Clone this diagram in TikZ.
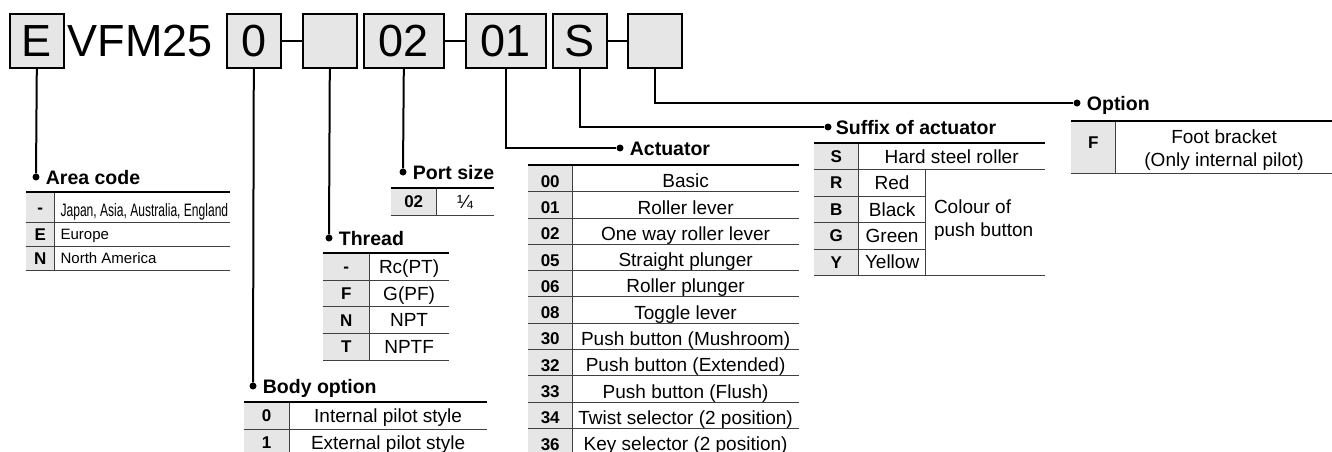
\documentclass[tikz,border=0pt]{standalone}
\usepackage{fontspec}
\setmainfont{Liberation Sans}
\newfontfamily\condsf[FakeStretch=0.67]{Liberation Sans}
\usetikzlibrary{positioning,calc}
\definecolor{cellgray}{HTML}{E6E6E6}
\definecolor{rulegray}{HTML}{404040}
\tikzset{
  codebox/.style={draw,line width=1.6pt,fill=cellgray,anchor=north west,inner sep=0pt,
    minimum height=54pt,font=\fontsize{45}{45}\selectfont},
  bigtext/.style={inner sep=0pt,font=\fontsize{45}{45}\selectfont},
  lead/.style={line width=2pt},
  dot/.style={circle,fill,inner sep=0pt,minimum size=7pt},
  head/.style={inner sep=0pt,font=\bfseries\fontsize{19.5}{20}\selectfont,
    text height=14pt,text depth=0pt},
  toprule/.style={line width=2pt},
  rowrule/.style={draw=rulegray,line width=0.9pt},
  keycell/.style={fill=cellgray,anchor=north west,inner sep=0pt,
    font=\bfseries\fontsize{17}{17}\selectfont,text height=12.2pt,text depth=0pt},
  txtcell/.style={inner sep=0pt,font=\fontsize{19}{19}\selectfont,
    text height=13.6pt,text depth=0pt},
  lowcell/.style={text height=17.6pt},
  lowtxt/.style={text height=18.8pt},
  smallcell/.style={font=\fontsize{15}{15}\selectfont,text height=10.8pt,text depth=0pt},
  notecell/.style={inner sep=0pt,font=\fontsize{19}{23}\selectfont},
}
\begin{document}
\begin{tikzpicture}[x=1pt,y=-1pt]
  \useasboundingbox (0,0) rectangle (1332,452);
  % model code
  \node[codebox,minimum width=54pt] (bE) at (9,13) {E};
  \node[bigtext,right=3pt of bE] (vfm) {VFM25};
  \node[codebox,minimum width=54pt] (b0) at (226,13) {0};
  \node[codebox,minimum width=54pt] (bX1) at (302,13) {};
  \node[codebox,minimum width=80pt] (b02) at (363,13) {02};
  \node[codebox,minimum width=80pt] (b01) at (465,13) {01};
  \node[codebox,minimum width=54pt] (bS) at (552,13) {S};
  \node[codebox,minimum width=54pt] (bX2) at (627,13) {};
  \draw[lead] (b0.east) -- (bX1.west);
  \draw[lead] (b02.east) -- (b01.west);
  \draw[lead] (bS.east) -- (bX2.west);

  % leaders and headings
  \node[dot] (dArea) at (36,177) {};
  \node[dot] (dBody) at (253,386) {};
  \node[dot] (dThr) at (329,238) {};
  \node[dot] (dPort) at (403,172) {};
  \node[dot] (dAct) at (620,148) {};
  \node[dot] (dSuf) at (828,127) {};
  \node[dot] (dOpt) at (1077,103) {};
  \draw[lead] (bE.south) -- (dArea);
  \draw[lead] (b0.south) -- (dBody);
  \draw[lead] (bX1.south) -- (dThr);
  \draw[lead] (b02.south) -- (dPort);
  \draw[lead] (b01.south) |- (dAct);
  \draw[lead] (bS.south) |- (dSuf);
  \draw[lead] (bX2.south) |- (dOpt);
  \node[head,right=6pt of dArea] (hArea) {Area code};
  \node[head,right=6pt of dBody] (hBody) {Body option};
  \node[head,right=6pt of dThr] (hThr) {Thread};
  \node[head,right=6pt of dPort] (hPort) {Port size};
  \node[head,right=6pt of dAct] (hAct) {Actuator};
  \node[head,right=4pt of dSuf] (hSuf) {Suffix of actuator};
  \node[head,right=6pt of dOpt] (hOpt) {Option};

  % area code
  \foreach \k/\v/\t/\h [count=\i] in {-/{\raisebox{-4pt}{\condsf\fontsize{18}{18}\selectfont Japan, Asia, Australia, England}}/192/30,
      E/Europe/222/24,N/North America/246/24}{
    \node[keycell,minimum width=28pt,minimum height=\h pt] (ak\i) at (26,\t) {\k};
    \node[txtcell,smallcell,minimum width=175pt,minimum height=\h pt,right=0pt of ak\i] (av\i)
      {\makebox[163pt][l]{\v}};
  }
  \foreach \i in {1,2,3} \draw[rowrule] (ak\i.south west) -- (av\i.south east);
  \draw[rowrule] (ak1.north east) -- (ak3.south east);
  \draw[toprule] (ak1.north west) -- (av1.north east);

  % body option
  \foreach \k/\v [count=\i] in {0/Internal pilot style,1/External pilot style}{
    \node[keycell,minimum width=45pt,minimum height=27pt] (yk\i) at (244,{402+27*(\i-1)}) {\k};
    \node[txtcell,minimum width=197pt,minimum height=27pt,right=0pt of yk\i] (yv\i) {\v};
  }
  \foreach \i in {1,2} \draw[rowrule] (yk\i.south west) -- (yv\i.south east);
  \draw[rowrule] (yk1.north east) -- (yk2.south east);
  \draw[toprule] (yk1.north west) -- (yv1.north east);

  % thread
  \foreach \k/\v [count=\i] in {-/Rc(PT),F/G(PF),N/NPT,T/NPTF}{
    \node[keycell,minimum width=46pt,minimum height=26.75pt] (tk\i) at (323,{253+26.75*(\i-1)}) {\k};
    \node[txtcell,minimum width=79pt,minimum height=26.75pt,right=0pt of tk\i] (tv\i) {\v};
  }
  \foreach \i in {1,...,4} \draw[rowrule] (tk\i.south west) -- (tv\i.south east);
  \draw[rowrule] (tk1.north east) -- (tk4.south east);
  \draw[toprule] (tk1.north west) -- (tv1.north east);

  % port size
  \node[keycell,minimum width=45pt,minimum height=27pt] (pk1) at (391,188) {02};
  \node[txtcell,minimum width=57pt,minimum height=27pt,right=0pt of pk1] (pv1) {¼};
  \draw[rowrule] (pk1.south west) -- (pv1.south east);
  \draw[rowrule] (pk1.north east) -- (pk1.south east);
  \draw[toprule] (pk1.north west) -- (pv1.north east);

  % actuator
  \foreach \k/\v [count=\i] in {00/Basic,01/Roller lever,02/One way roller lever,05/Straight plunger,
      06/Roller plunger,08/Toggle lever,30/Push button (Mushroom),32/Push button (Extended),
      33/Push button (Flush),34/Twist selector (2 position),36/Key selector (2 position)}{
    \node[keycell,lowcell,minimum width=44pt,minimum height=26.3pt] (ck\i) at (528,{165+26.3*(\i-1)}) {\k};
    \node[txtcell,lowtxt,minimum width=226pt,minimum height=26.3pt,right=0pt of ck\i] (cv\i) {\v};
  }
  \foreach \i in {1,...,11} \draw[rowrule] (ck\i.south west) -- (cv\i.south east);
  \draw[rowrule] (ck1.north east) -- (ck11.south east);
  \draw[toprule] (ck1.north west) -- (cv1.north east);

  % suffix of actuator
  \node[keycell,minimum width=44pt,minimum height=26.4pt] (sk1) at (814,143) {S};
  \node[txtcell,minimum width=186pt,minimum height=26.4pt,right=0pt of sk1] (sv1) {Hard steel roller};
  \foreach \k/\v [count=\i from 2] in {R/Red,B/Black,G/Green,Y/Yellow}{
    \node[keycell,minimum width=44pt,minimum height=26.4pt] (sk\i) at (814,{143+26.4*(\i-1)}) {\k};
    \node[txtcell,minimum width=67pt,minimum height=26.4pt,right=0pt of sk\i] (sv\i) {\v};
  }
  \node[notecell,align=left,anchor=west] (sNote) at ($(sv2.north east)!0.5!(sv5.south east)+(8,-2)$)
    {Colour of\\push button};
  \draw[rowrule] (sk1.south west) -- (sv1.south east);
  \foreach \i in {2,3,4} \draw[rowrule] (sk\i.south west) -- (sv\i.south east);
  \draw[rowrule] (sk5.south west) -- (sv1.east |- sk5.south);
  \draw[rowrule] (sk1.north east) -- (sk5.south east);
  \draw[rowrule] (sv2.north east) -- (sv5.south east);
  \draw[toprule] (sk1.north west) -- (sv1.north east);

  % option
  \node[keycell,text depth=10pt,minimum width=44pt,minimum height=52pt] (ok1) at (1071,121) {F};
  \node[notecell,align=center,minimum width=217pt,minimum height=52pt,right=0pt of ok1,yshift=-2.5pt] (ov1)
    {Foot bracket\\(Only internal pilot)};
  \draw[rowrule] (ok1.south west) -- (ov1.east |- ok1.south);
  \draw[rowrule] (ok1.north east) -- (ok1.south east);
  \draw[toprule] (ok1.north west) -- (ov1.east |- ok1.north);
\end{tikzpicture}
\end{document}
